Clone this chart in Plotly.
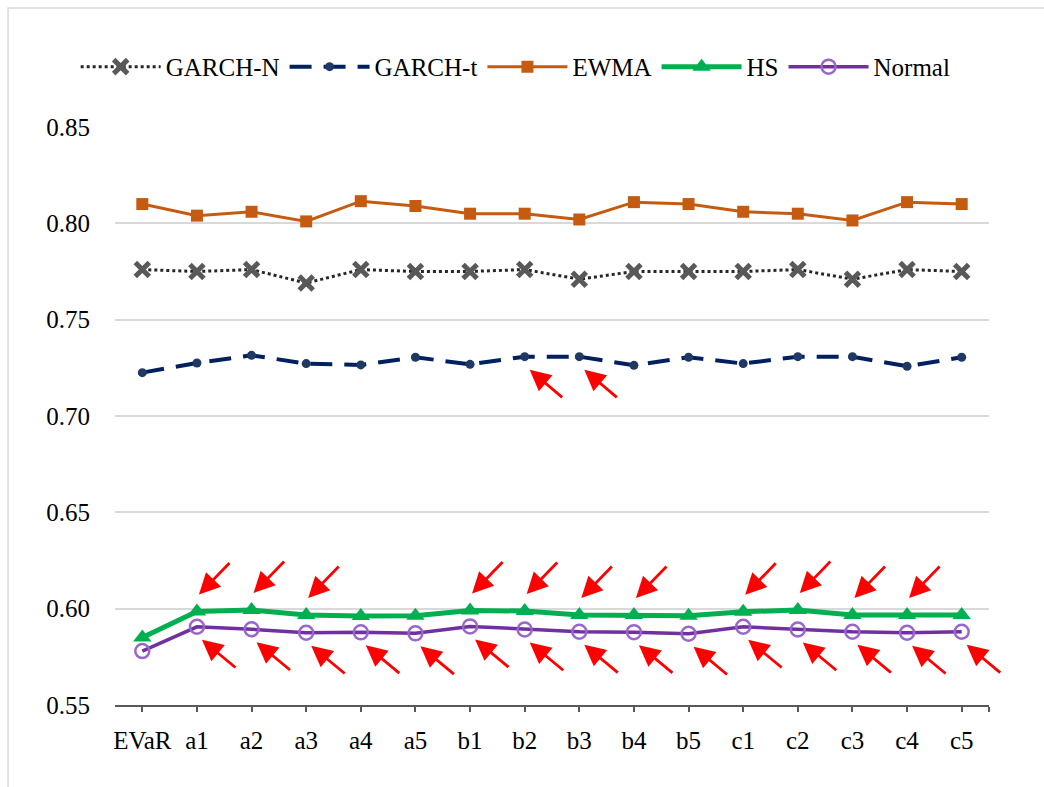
import plotly.graph_objects as go

categories = ["EVaR", "a1", "a2", "a3", "a4", "a5", "b1", "b2", "b3", "b4", "b5",
              "c1", "c2", "c3", "c4", "c5"]

garch_n = [0.776, 0.775, 0.776, 0.769, 0.776, 0.775, 0.775, 0.776, 0.771, 0.775,
           0.775, 0.775, 0.776, 0.771, 0.776, 0.775]
garch_t = [0.7225, 0.7275, 0.7315, 0.7272, 0.7265, 0.7305, 0.7268, 0.7308, 0.7308, 0.7263,
           0.7305, 0.7272, 0.7308, 0.7308, 0.7258, 0.7305]
ewma = [0.810, 0.804, 0.806, 0.801, 0.8115, 0.809, 0.805, 0.805, 0.802, 0.811,
        0.810, 0.806, 0.805, 0.8015, 0.811, 0.810]
hs = [0.585, 0.5985, 0.5993, 0.5967, 0.5962, 0.5963, 0.599, 0.5988, 0.5967, 0.5967,
      0.5963, 0.5984, 0.5993, 0.5967, 0.5967, 0.5967]
normal = [0.578, 0.5906, 0.5893, 0.5875, 0.5877, 0.5872, 0.5908, 0.5892, 0.588, 0.5878,
          0.5870, 0.5906, 0.5892, 0.588, 0.5875, 0.588]

# categories marked by red arrows
hs_arrow_cats = ["a1", "a2", "a3", "b1", "b2", "b3", "b4", "c1", "c2", "c3", "c4"]
normal_arrow_cats = ["a1", "a2", "a3", "a4", "a5", "b1", "b2", "b3", "b4", "b5",
                     "c1", "c2", "c3", "c4", "c5"]
garch_t_arrow_cats = ["b2", "b3"]

FONT = "Liberation Serif"
xs = list(range(len(categories)))

fig = go.Figure()
fig.add_trace(go.Scatter(
    x=xs, y=garch_n, name="GARCH-N", mode="lines+markers",
    line=dict(color="#262626", width=3, dash="dot"),
    marker=dict(symbol="x-thin", size=14, line=dict(color="#595959", width=5), color="#595959"),
))
fig.add_trace(go.Scatter(
    x=xs, y=garch_t, name="GARCH-t", mode="lines+markers",
    line=dict(color="#002060", width=4, dash="22px,12px"),
    marker=dict(symbol="circle", size=9, color="#203864", line=dict(width=0)),
))
fig.add_trace(go.Scatter(
    x=xs, y=ewma, name="EWMA", mode="lines+markers",
    line=dict(color="#C55A11", width=3),
    marker=dict(symbol="square", size=12, color="#C55A11", line=dict(width=0)),
))
fig.add_trace(go.Scatter(
    x=xs, y=hs, name="HS", mode="lines+markers",
    line=dict(color="#00B050", width=5),
    marker=dict(symbol="triangle-up", size=16, color="#00B050", line=dict(width=0)),
))
fig.add_trace(go.Scatter(
    x=xs, y=normal, name="Normal", mode="lines+markers",
    line=dict(color="#7030A0", width=3.5),
    marker=dict(symbol="circle-open", size=14, color="#9966CC", line=dict(width=2.5, color="#9966CC")),
))

annotations = []
def add_arrow(cat, series, xshift, yshift, ax, ay):
    i = categories.index(cat)
    annotations.append(dict(
        x=i, y=series[i], xref="x", yref="y", text="", showarrow=True,
        xshift=xshift, yshift=yshift, ax=ax, ay=ay,
        arrowhead=2, arrowsize=1.5, arrowwidth=2.8, arrowcolor="#FF0000",
    ))

for c in hs_arrow_cats:
    add_arrow(c, hs, 2, 17, 32, -33)
for c in normal_arrow_cats:
    add_arrow(c, normal, 5, -13, 35, 29)
for c in garch_t_arrow_cats:
    add_arrow(c, garch_t, 5, -13, 34, 29)

fig.update_layout(
    width=1044, height=787,
    margin=dict(l=115, r=55, t=127, b=82),
    paper_bgcolor="white", plot_bgcolor="white",
    font=dict(family=FONT, size=25, color="#000000"),
    showlegend=True,
    legend=dict(orientation="h", x=-0.045, y=1.104,
                xanchor="left", yanchor="middle",
                font=dict(family=FONT, size=25, color="#000000"),
                itemwidth=80, bgcolor="rgba(0,0,0,0)"),
    annotations=annotations,
    shapes=[dict(type="rect", xref="paper", yref="paper",
                 x0=-0.1224, x1=1.3, y0=-0.3, y1=1.2059,
                 line=dict(color="#D9D9D9", width=1.5), layer="below")],
)

fig.update_xaxes(
    range=[-0.5, 15.5], tickmode="array",
    tickvals=xs + [15.5], ticktext=categories + [""],
    showgrid=False, zeroline=False,
    showline=True, linecolor="#595959", linewidth=2,
    ticks="outside", ticklen=5, tickwidth=1.5, tickcolor="#595959",
    ticklabelstandoff=7,
    tickfont=dict(family=FONT, size=25, color="#000000"),
)
fig.update_yaxes(
    range=[0.55, 0.85], dtick=0.05, tick0=0.55, tickformat=".2f",
    showgrid=True, gridcolor="#D9D9D9", gridwidth=1.5,
    zeroline=False, showline=False, ticks="",
    ticklabelstandoff=24,
    tickfont=dict(family=FONT, size=25, color="#000000"),
)

fig.write_html("out.html", post_script="document.body.style.margin='0';",
               config={"displayModeBar": False})
